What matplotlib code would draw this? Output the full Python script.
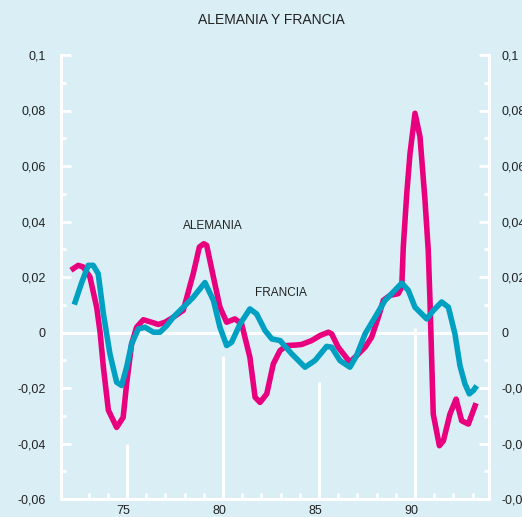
import matplotlib.pyplot as plt
import matplotlib.transforms as mtransforms
from matplotlib.ticker import MultipleLocator, FixedLocator

plt.rcParams['font.family'] = ['Liberation Sans', 'DejaVu Sans']

# Alemania (pink), years and values
ale_x = [72.2, 72.46, 72.72, 73.07, 73.42, 73.6, 73.77, 74.03, 74.46, 74.8, 74.98,
         75.24, 75.5, 75.85, 76.28, 76.63, 76.98, 77.41, 77.93, 78.45, 78.77, 79.0,
         79.15, 79.5, 79.84, 80.19, 80.62, 80.97, 81.4, 81.67, 81.93, 82.28, 82.62,
         82.97, 83.32, 83.84, 84.1, 84.62, 85.05, 85.49, 85.66, 86.0, 86.61, 87.05,
         87.4, 87.74, 88.09, 88.35, 88.7, 89.13, 89.31, 89.39, 89.57, 89.74, 90.0,
         90.26, 90.52, 90.69, 90.78, 90.95, 91.27, 91.48, 91.82, 92.14, 92.43,
         92.78, 93.13]
ale_y = [0.023, 0.0242, 0.0236, 0.020, 0.0091, 0.0, -0.0125, -0.028, -0.0342, -0.0306,
         -0.0185, -0.0041, 0.0019, 0.0046, 0.0037, 0.0029, 0.0037, 0.0055, 0.008,
         0.0212, 0.0308, 0.032, 0.0314, 0.020, 0.0091, 0.0037, 0.0049, 0.0031,
         -0.0089, -0.0233, -0.0252, -0.0221, -0.0113, -0.0065, -0.0047, -0.0045,
         -0.0043, -0.0029, -0.0011, 0.0001, -0.0005, -0.0053, -0.0107, -0.0077,
         -0.0053, -0.0017, 0.0055, 0.0116, 0.0134, 0.014, 0.0164, 0.0308, 0.05,
         0.0645, 0.079, 0.0705, 0.0477, 0.0296, 0.0116, -0.0294, -0.0408, -0.039,
         -0.0294, -0.024, -0.0318, -0.033, -0.0264]

# Francia (blue)
fra_x = [72.3, 72.64, 72.98, 73.24, 73.5, 73.77, 74.11, 74.46, 74.72, 74.98, 75.24,
         75.59, 75.94, 76.37, 76.72, 77.07, 77.41, 77.93, 78.45, 79.06, 79.5, 79.84,
         80.19, 80.45, 80.89, 81.4, 81.75, 82.19, 82.54, 82.97, 83.58, 84.27, 84.79,
         85.4, 85.66, 86.09, 86.61, 86.96, 87.4, 87.92, 88.44, 88.7, 89.31, 89.65,
         90.0, 90.61, 90.95, 91.39, 91.74, 92.08, 92.34, 92.6, 92.83, 93.04, 93.13]
fra_y = [0.011, 0.018, 0.0242, 0.0242, 0.0212, 0.0068, -0.0077, -0.0179, -0.0191,
         -0.0125, -0.0041, 0.0013, 0.0019, 0.0001, 0.0001, 0.0025, 0.0055, 0.0091,
         0.0127, 0.018, 0.0116, 0.0019, -0.0047, -0.0035, 0.0031, 0.0085, 0.0067,
         0.0007, -0.0023, -0.0029, -0.0077, -0.0125, -0.0101, -0.005, -0.0053,
         -0.0101, -0.0125, -0.0083, -0.0005, 0.0055, 0.0116, 0.0134, 0.0178, 0.0152,
         0.0091, 0.0049, 0.0079, 0.011, 0.0091, -0.0005, -0.0119, -0.0185, -0.0221,
         -0.0209, -0.020]

x_major = [75, 80, 85, 90]
x_labels = ["75", "80", "85", "90"]
x_minor = list(range(73, 94))
y_major = [-0.06, -0.04, -0.02, 0, 0.02, 0.04, 0.06, 0.08, 0.1]
y_labels = ["-0,06", "-0,04", "-0,02", "0", "0,02", "0,04", "0,06", "0,08", "0,1"]
# white guide lines rising from the x axis at the major years
guide_top = [-0.04, -0.0083, -0.018, 0.0018]

bg = "#d9eff5"
pink = "#e8007f"
blue = "#00a0c3"

fig = plt.figure(figsize=(5.22, 5.17), dpi=100, facecolor=bg)
ax = fig.add_axes([61 / 522, 1 - 499 / 517, (489 - 61) / 522, (499 - 55) / 517])
ax.set_facecolor(bg)

ax.set_xlim(71.5625, 93.854)
ax.set_ylim(-0.06, 0.1)

for s in ["left", "right", "bottom"]:
    ax.spines[s].set_color("white")
    ax.spines[s].set_linewidth(2.2)
ax.spines["top"].set_visible(False)

ax.axhline(0, color="white", lw=2.2, zorder=1)
ax.vlines(x_major, -0.06, guide_top, color="white", lw=2.2, zorder=1)

ax.plot(ale_x, ale_y, color=pink, lw=4, solid_joinstyle="round", zorder=3)
ax.plot(fra_x, fra_y, color=blue, lw=4, solid_joinstyle="round", zorder=4)

ax.text(79.48, 0.0383, "ALEMANIA", fontsize=8.5, ha="center", va="center", color="#222222")
ax.text(83.02, 0.0144, "FRANCIA", fontsize=8.5, ha="center", va="center", color="#222222")

fig.text(0.519, 0.961, "ALEMANIA Y FRANCIA", fontsize=10, ha="center", va="center",
         color="#222222")

# y ticks on both sides, pointing inward
ax.yaxis.set_major_locator(FixedLocator(y_major))
ax.set_yticklabels(y_labels)
ax.yaxis.set_minor_locator(MultipleLocator(0.01))
ax.tick_params(axis="y", which="major", direction="in", length=7, width=2, color="white",
               left=True, right=True, labelleft=True, labelright=True, labelsize=9,
               labelcolor="#222222")
ax.tick_params(axis="y", which="minor", direction="in", length=3.5, width=2, color="white",
               left=True, right=True)
ax.tick_params(axis="y", which="major", pad=11)

# right labels sit a little closer to the axis than the left ones
rshift = mtransforms.ScaledTranslation(-3 / 100, 0, fig.dpi_scale_trans)
for t in ax.yaxis.get_major_ticks():
    t.label2.set_transform(t.label2.get_transform() + rshift)

ax.xaxis.set_major_locator(FixedLocator(x_major))
ax.set_xticklabels(x_labels)
ax.xaxis.set_minor_locator(FixedLocator(x_minor))
ax.tick_params(axis="x", which="both", direction="in", length=4.5, width=2, color="white",
               labelsize=9, labelcolor="#222222", pad=4)

shift = mtransforms.ScaledTranslation(-4 / 100, 0, fig.dpi_scale_trans)
for lab in ax.get_xticklabels():
    lab.set_transform(lab.get_transform() + shift)

fig.savefig("out.png", dpi=100, facecolor=bg)
